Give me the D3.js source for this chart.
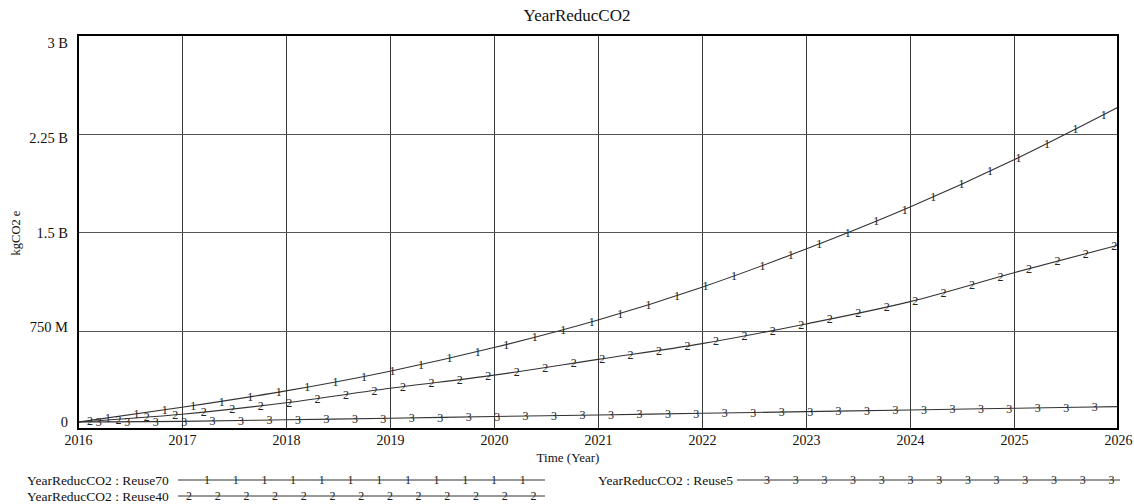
<!DOCTYPE html>
<html><head><meta charset="utf-8">
<script src="https://cdn.jsdelivr.net/npm/d3@7"></script>
<style>body{margin:0;background:#fff}svg{display:block;opacity:0.999}</style>
</head><body><svg id="c" width="1134" height="504" font-family="'Liberation Serif', 'Times New Roman', Times, 'DejaVu Serif', serif"></svg>
<script>
const years = [2016,2017,2018,2019,2020,2021,2022,2023,2024,2025,2026];
const reuse70 = [0.053,0.165,0.29,0.44,0.62,0.83,1.08,1.37,1.69,2.05,2.45].map(v=>v*1e9);
const reuse40 = [0.053,0.112,0.20,0.31,0.41,0.53,0.65,0.80,0.97,1.19,1.40].map(v=>v*1e9);
const reuse5  = [0.053,0.058,0.07,0.082,0.095,0.107,0.12,0.132,0.145,0.158,0.17].map(v=>v*1e9);
const yTicks = [0,750e6,1.5e9,2.25e9,3e9];
const yTickLabels = ["0","750 M","1.5 B","2.25 B","3 B"];
const seriesNames = ["YearReducCO2 : Reuse70","YearReducCO2 : Reuse40","YearReducCO2 : Reuse5"];
const seriesMarks = ["1","2","3"];
const seriesData = [reuse70,reuse40,reuse5];
const title = "YearReducCO2", xTitle = "Time (Year)", yTitle = "kgCO2 e";

const FONT = "'Liberation Serif', 'Times New Roman', Times, 'DejaVu Serif', serif";
const svg = d3.select("#c");
const L=78,R=1118,T=35,B=429;
const x = d3.scaleLinear().domain([2016,2026]).range([L,R]);
const y = d3.scaleLinear().domain([0,3e9]).range([B,T]);
const yLab = d3.scaleLinear().domain([0,3e9]).range([422,43]);
const stroke="#333";

// grid
svg.append("g").selectAll("line").data(years.slice(1,-1)).join("line")
  .attr("x1",d=>Math.round(x(d))+0.5).attr("x2",d=>Math.round(x(d))+0.5).attr("y1",T).attr("y2",B)
  .attr("stroke","#3a3a3a").attr("stroke-width",1);
svg.append("g").selectAll("line").data(yTicks.slice(1,-1)).join("line")
  .attr("x1",L).attr("x2",R).attr("y1",d=>Math.round(y(d))+0.5).attr("y2",d=>Math.round(y(d))+0.5)
  .attr("stroke","#555").attr("stroke-width",1);

// x axis labels
const xAxis = d3.axisBottom(x).tickValues(years).tickFormat(d3.format("d")).tickSize(0).tickPadding(6);
const gx = svg.append("g").attr("transform",`translate(0,${B})`).call(xAxis);
gx.attr("font-family",FONT).attr("font-size",14);
gx.select(".domain").remove();
gx.selectAll("text").attr("fill","#111");

// y labels
svg.append("g").selectAll("text").data(yTicks).join("text")
  .attr("font-family",FONT)
  .attr("x",68).attr("y",d=>yLab(d)).attr("dy","0.35em").attr("text-anchor","end")
  .attr("font-size",14.5).attr("fill","#111").text((d,i)=>yTickLabels[i]);

// lines
const line = d3.line().x((d,i)=>x(years[i])).y(d=>y(d)).curve(d3.curveMonotoneX);
const starts=[2016.288,2016.115,2016.2], step=0.2736;
seriesData.forEach((s,k)=>{
  const p = svg.append("path").attr("d",line(s)).attr("fill","none").attr("stroke",stroke).attr("stroke-width",1.1);
  const node=p.node(), len=node.getTotalLength();
  const yAt = xv => {let lo=0,hi=len;for(let j=0;j<30;j++){const m=(lo+hi)/2;if(node.getPointAtLength(m).x<xv)lo=m;else hi=m;}return node.getPointAtLength(lo).y;};
  const pts=[];
  for(let t=starts[k]; t<2026; t+=step) pts.push(t);
  svg.append("g").selectAll("text").data(pts).join("text")
    .attr("font-family",FONT)
    .attr("x",d=>x(d)).attr("y",d=>yAt(x(d))).attr("dy","0.35em").attr("text-anchor","middle")
    .attr("font-size",12).attr("fill","#222").text(seriesMarks[k]);
});

// border
svg.append("rect").attr("x",L).attr("y",T).attr("width",R-L).attr("height",B-T)
  .attr("fill","none").attr("stroke","#000").attr("stroke-width",2);

// titles
svg.append("text").attr("font-family",FONT).attr("x",577).attr("y",21).attr("text-anchor","middle").attr("font-size",17).attr("fill","#111").text(title);
svg.append("text").attr("font-family",FONT).attr("x",568).attr("y",462).attr("text-anchor","middle").attr("font-size",13).attr("fill","#111").text(xTitle);
svg.append("text").attr("font-family",FONT).attr("transform","translate(20,233) rotate(-90)").attr("text-anchor","middle").attr("font-size",12.5).attr("fill","#111").text(yTitle);

// legend
const leg=[{x:27,y:480,lx1:178,lx2:545,m0:207,n:12},{x:27,y:496,lx1:178,lx2:545,m0:189,n:13},{x:598,y:480,lx1:737,lx2:1120,m0:767,n:13}];
leg.forEach((l,k)=>{
  svg.append("text").attr("font-family",FONT).attr("x",l.x).attr("y",l.y).attr("dy","0.35em").attr("font-size",13.5).attr("fill","#111").text(seriesNames[k]);
  svg.append("line").attr("x1",l.lx1).attr("x2",l.lx2).attr("y1",l.y).attr("y2",l.y).attr("stroke",stroke).attr("stroke-width",1.1);
  svg.append("g").selectAll("text").data(d3.range(l.n)).join("text")
    .attr("font-family",FONT)
    .attr("x",i=>l.m0+i*28.7).attr("y",l.y).attr("dy","0.35em").attr("text-anchor","middle")
    .attr("font-size",12).attr("fill","#222").text(seriesMarks[k]);
});
</script></body></html>
